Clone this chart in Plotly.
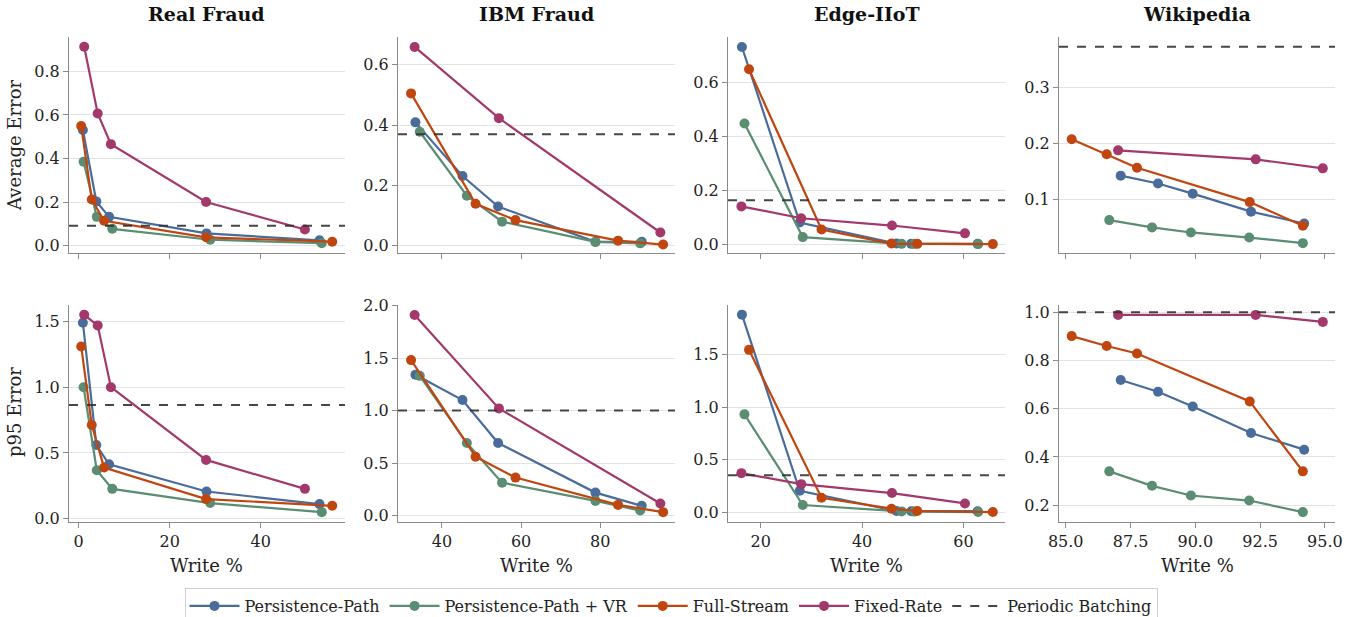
import plotly.graph_objects as go

# ---------------- data ----------------
datasets = ["Real Fraud", "IBM Fraud", "Edge-IIoT", "Wikipedia"]
series_names = ["Persistence-Path", "Persistence-Path + VR", "Full-Stream", "Fixed-Rate"]
baseline_name = "Periodic Batching"

# Real Fraud
rf_x_pp = [0.95, 3.9, 6.7, 28.1, 52.9]
rf_x_vr = [1.1, 4.0, 7.4, 28.9, 53.4]
rf_x_fs = [0.58, 2.9, 5.6, 28.0, 55.7]
rf_x_fr = [1.24, 4.2, 7.1, 28.0, 49.7]
rf_avg_pp = [0.531, 0.203, 0.132, 0.056, 0.024]
rf_avg_vr = [0.385, 0.132, 0.077, 0.027, 0.011]
rf_avg_fs = [0.549, 0.212, 0.114, 0.038, 0.018]
rf_avg_fr = [0.913, 0.607, 0.466, 0.200, 0.074]
rf_p95_pp = [1.49, 0.56, 0.414, 0.207, 0.111]
rf_p95_vr = [1.00, 0.369, 0.227, 0.119, 0.050]
rf_p95_fs = [1.31, 0.712, 0.389, 0.149, 0.098]
rf_p95_fr = [1.55, 1.47, 1.00, 0.447, 0.227]
rf_base_avg = 0.091
rf_base_p95 = 0.864

# IBM Fraud
ibm_x_pp = [33.3, 45.2, 54.2, 78.8, 90.5]
ibm_x_vr = [34.4, 46.3, 55.2, 78.8, 90.1]
ibm_x_fs = [32.2, 48.5, 58.6, 84.5, 95.9]
ibm_x_fr = [33.1, 54.4, 95.2]
ibm_avg_pp = [0.409, 0.231, 0.130, 0.013, 0.013]
ibm_avg_vr = [0.378, 0.166, 0.080, 0.013, 0.008]
ibm_avg_fs = [0.505, 0.139, 0.085, 0.017, 0.004]
ibm_avg_fr = [0.659, 0.423, 0.044]
ibm_p95_pp = [1.34, 1.10, 0.69, 0.218, 0.092]
ibm_p95_vr = [1.33, 0.69, 0.313, 0.139, 0.047]
ibm_p95_fs = [1.48, 0.56, 0.361, 0.101, 0.032]
ibm_p95_fr = [1.91, 1.02, 0.114]
ibm_base_avg = 0.370
ibm_base_p95 = 1.00

# Edge-IIoT
edge_x_pp = [16.3, 27.7, 46.8, 49.7, 62.8]
edge_x_vr = [16.8, 28.3, 47.8, 50.3, 62.9]
edge_x_fs = [17.7, 32.0, 45.8, 50.9, 65.8]
edge_x_fr = [16.2, 28.0, 45.9, 60.3]
edge_avg_pp = [0.732, 0.080, 0.002, 0.001, 0.001]
edge_avg_vr = [0.448, 0.026, 0.001, 0.001, 0.000]
edge_avg_fs = [0.649, 0.054, 0.002, 0.001, 0.000]
edge_avg_fr = [0.140, 0.096, 0.069, 0.040]
edge_p95_pp = [1.883, 0.203, 0.010, 0.008, 0.008]
edge_p95_vr = [0.932, 0.067, 0.006, 0.004, 0.000]
edge_p95_fs = [1.547, 0.136, 0.032, 0.010, 0.000]
edge_p95_fr = [0.371, 0.266, 0.181, 0.082]
edge_base_avg = 0.163
edge_base_p95 = 0.352

# Wikipedia
wiki_x_pp = [87.12, 88.56, 89.90, 92.15, 94.20]
wiki_x_vr = [86.68, 88.33, 89.83, 92.08, 94.15]
wiki_x_fs = [85.23, 86.58, 87.75, 92.10, 94.15]
wiki_x_fr = [87.02, 92.33, 94.92]
wiki_avg_pp = [0.143, 0.129, 0.111, 0.079, 0.058]
wiki_avg_vr = [0.064, 0.051, 0.042, 0.033, 0.023]
wiki_avg_fs = [0.2076, 0.181, 0.157, 0.096, 0.054]
wiki_avg_fr = [0.188, 0.172, 0.156]
wiki_p95_pp = [0.719, 0.670, 0.609, 0.499, 0.430]
wiki_p95_vr = [0.340, 0.280, 0.240, 0.219, 0.171]
wiki_p95_fs = [0.901, 0.860, 0.829, 0.630, 0.340]
wiki_p95_fr = [0.989, 0.989, 0.960]
wiki_base_avg = 0.372
wiki_base_p95 = 1.00

# tick labels
x_ticks = [[0, 20, 40], [40, 60, 80], [20, 40, 60], [85.0, 87.5, 90.0, 92.5, 95.0]]
avg_ticks = [[0.0, 0.2, 0.4, 0.6, 0.8], [0.0, 0.2, 0.4, 0.6], [0.0, 0.2, 0.4, 0.6], [0.1, 0.2, 0.3]]
p95_ticks = [[0.0, 0.5, 1.0, 1.5], [0.0, 0.5, 1.0, 1.5, 2.0], [0.0, 0.5, 1.0, 1.5], [0.2, 0.4, 0.6, 0.8, 1.0]]

# ---------------- style ----------------
colors = ["#4A6C9B", "#5A8D72", "#C0460F", "#A3386B"]
base_color = "rgba(50,50,50,0.9)"
FONT = "DejaVu Serif"

x_ranges = [[-2.1, 58.5], [28.9, 98.9], [13.55, 68.2], [84.74, 95.39]]
avg_ranges = [[-0.034, 0.958], [-0.024, 0.692], [-0.033, 0.769], [0.0055, 0.3895]]
p95_ranges = [[-0.025, 1.625], [-0.062, 2.005], [-0.095, 1.975], [0.130, 1.030]]

W, H = 1365, 617
col_px = [(69, 345), (398, 675), (728, 1005), (1059, 1335)]
row_px = [(37, 253), (305, 522)]

xs = [
    [rf_x_pp, rf_x_vr, rf_x_fs, rf_x_fr],
    [ibm_x_pp, ibm_x_vr, ibm_x_fs, ibm_x_fr],
    [edge_x_pp, edge_x_vr, edge_x_fs, edge_x_fr],
    [wiki_x_pp, wiki_x_vr, wiki_x_fs, wiki_x_fr],
]
avgs = [
    [rf_avg_pp, rf_avg_vr, rf_avg_fs, rf_avg_fr],
    [ibm_avg_pp, ibm_avg_vr, ibm_avg_fs, ibm_avg_fr],
    [edge_avg_pp, edge_avg_vr, edge_avg_fs, edge_avg_fr],
    [wiki_avg_pp, wiki_avg_vr, wiki_avg_fs, wiki_avg_fr],
]
p95s = [
    [rf_p95_pp, rf_p95_vr, rf_p95_fs, rf_p95_fr],
    [ibm_p95_pp, ibm_p95_vr, ibm_p95_fs, ibm_p95_fr],
    [edge_p95_pp, edge_p95_vr, edge_p95_fs, edge_p95_fr],
    [wiki_p95_pp, wiki_p95_vr, wiki_p95_fs, wiki_p95_fr],
]
base_avg = [rf_base_avg, ibm_base_avg, edge_base_avg, wiki_base_avg]
base_p95 = [rf_base_p95, ibm_base_p95, edge_base_p95, wiki_base_p95]

fig = go.Figure()
layout = dict(
    width=W, height=H,
    margin=dict(l=0, r=0, t=0, b=0, autoexpand=False),
    paper_bgcolor="white", plot_bgcolor="white",
    font=dict(family=FONT, size=16, color="#222"),
    showlegend=True,
)
shapes = []
annotations = []

axis_common = dict(
    showline=True, linecolor="#8a8a8a", linewidth=1.2, mirror=False,
    ticks="outside", ticklen=5, tickwidth=1, tickcolor="#8a8a8a",
    zeroline=False, automargin=False,
    tickfont=dict(family=FONT, size=16, color="#222"),
)

for r in range(2):
    for c in range(4):
        idx = r * 4 + c + 1
        xa = "xaxis" if idx == 1 else f"xaxis{idx}"
        ya = "yaxis" if idx == 1 else f"yaxis{idx}"
        xref = "x" if idx == 1 else f"x{idx}"
        yref = "y" if idx == 1 else f"y{idx}"
        x0, x1 = col_px[c]
        t0, t1 = row_px[r]
        ydata = avgs[c] if r == 0 else p95s[c]
        yticks = avg_ticks[c] if r == 0 else p95_ticks[c]
        yrange = avg_ranges[c] if r == 0 else p95_ranges[c]
        base = base_avg[c] if r == 0 else base_p95[c]
        xfmt = ".1f" if c == 3 else "d"
        layout[xa] = dict(
            axis_common, domain=[x0 / W, x1 / W], anchor=yref,
            range=x_ranges[c], tickvals=x_ticks[c], tickformat=xfmt,
            showgrid=False, showticklabels=(r == 1),
        )
        layout[ya] = dict(
            axis_common, domain=[1 - t1 / H, 1 - t0 / H], anchor=xref,
            range=yrange, tickvals=yticks, tickformat=".1f",
            showgrid=True, gridcolor="#e3e3e3", gridwidth=1,
        )
        for s in range(4):
            fig.add_trace(go.Scatter(
                x=xs[c][s], y=ydata[s], mode="lines+markers",
                name=series_names[s], legendgroup=series_names[s],
                showlegend=(idx == 1),
                line=dict(color=colors[s], width=2.2),
                marker=dict(color=colors[s], size=10),
                xaxis=xref, yaxis=yref,
            ))
        shapes.append(dict(
            type="line", xref=f"{xref} domain", yref=yref,
            x0=0, x1=1, y0=base, y1=base, layer="above",
            line=dict(color=base_color, width=2, dash="dash"),
        ))
        if r == 0:
            annotations.append(dict(
                text=f"<b>{datasets[c]}</b>", x=(x0 + x1) / 2 / W, y=1 - 14 / H,
                xref="paper", yref="paper", showarrow=False,
                xanchor="center", yanchor="middle",
                font=dict(family=FONT, size=19, color="#111"),
            ))
        else:
            annotations.append(dict(
                text="Write %", x=(x0 + x1) / 2 / W, y=1 - 565 / H,
                xref="paper", yref="paper", showarrow=False,
                xanchor="center", yanchor="middle",
                font=dict(family=FONT, size=18, color="#222"),
            ))

# legend-only entry for the baseline
fig.add_trace(go.Scatter(
    x=[None], y=[None], mode="lines", name=baseline_name,
    line=dict(color=base_color, width=2, dash="dash"),
))

annotations.append(dict(
    text="Average Error", x=14 / W, y=1 - 145 / H, xref="paper", yref="paper",
    showarrow=False, textangle=-90, xanchor="center", yanchor="middle",
    font=dict(family=FONT, size=18, color="#222"),
))
annotations.append(dict(
    text="p95 Error", x=14 / W, y=1 - 412 / H, xref="paper", yref="paper",
    showarrow=False, textangle=-90, xanchor="center", yanchor="middle",
    font=dict(family=FONT, size=18, color="#222"),
))

layout["shapes"] = shapes
layout["annotations"] = annotations
layout["legend"] = dict(
    orientation="h", x=671 / W, y=1 - 588 / H, xanchor="center", yanchor="top",
    bordercolor="#d0d0d0", borderwidth=1, bgcolor="white",
    font=dict(family=FONT, size=16, color="#222"),
    itemwidth=50, tracegroupgap=0,
)
fig.update_layout(**layout)
fig.write_html(
    "out.html",
    config={"displayModeBar": False},
    post_script="document.body.style.margin='0';document.body.style.overflow='hidden';",
)
